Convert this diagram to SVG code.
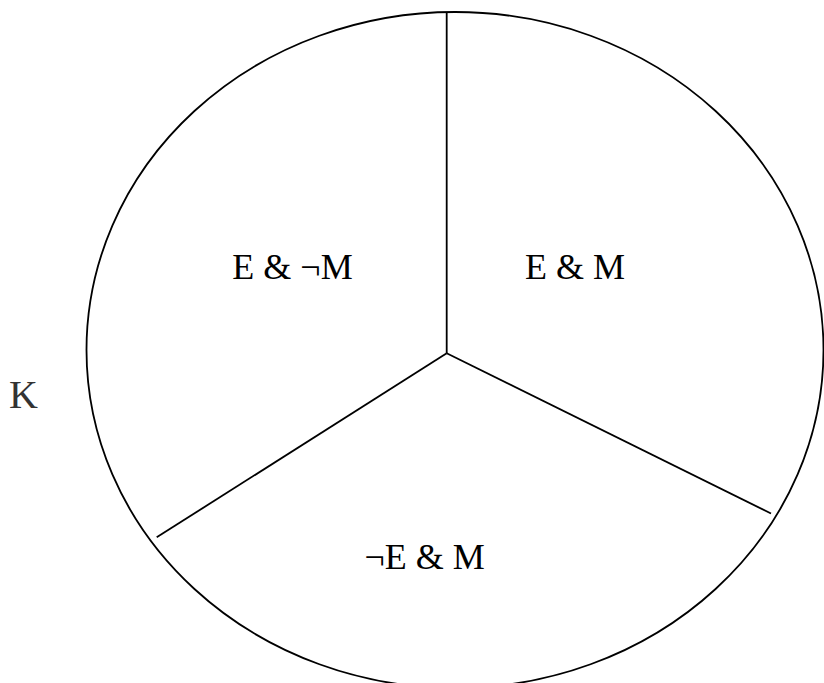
<svg xmlns="http://www.w3.org/2000/svg" width="824" height="683" viewBox="0 0 824 683">
<style>
.ln{fill:none;stroke:#000;stroke-width:1.8}
.lb{font-family:"Liberation Serif","Times New Roman",serif;font-size:36px;fill:#000;text-anchor:middle}
</style>
<rect width="824" height="683" fill="#fff"/>
<g id="set-K">
<ellipse class="ln" cx="455" cy="350" rx="368.5" ry="338"/>
<text x="9" y="408" style="font-family:'Liberation Serif','Times New Roman',serif;font-size:40px;fill:#333">K</text>
</g>
<g id="connectors">
<line class="ln" x1="446.7" y1="12" x2="446.7" y2="353.3"/>
<line class="ln" x1="446.7" y1="353.3" x2="771" y2="513.5"/>
<line class="ln" x1="446.7" y1="353.3" x2="156.7" y2="537.3"/>
</g>
<g id="region-E-notM"><text class="lb" x="292.5" y="279">E &amp; ¬M</text></g>
<g id="region-E-M"><text class="lb" x="575" y="279">E &amp; M</text></g>
<g id="region-notE-M"><text class="lb" x="424.7" y="569">¬E &amp; M</text></g>
</svg>
